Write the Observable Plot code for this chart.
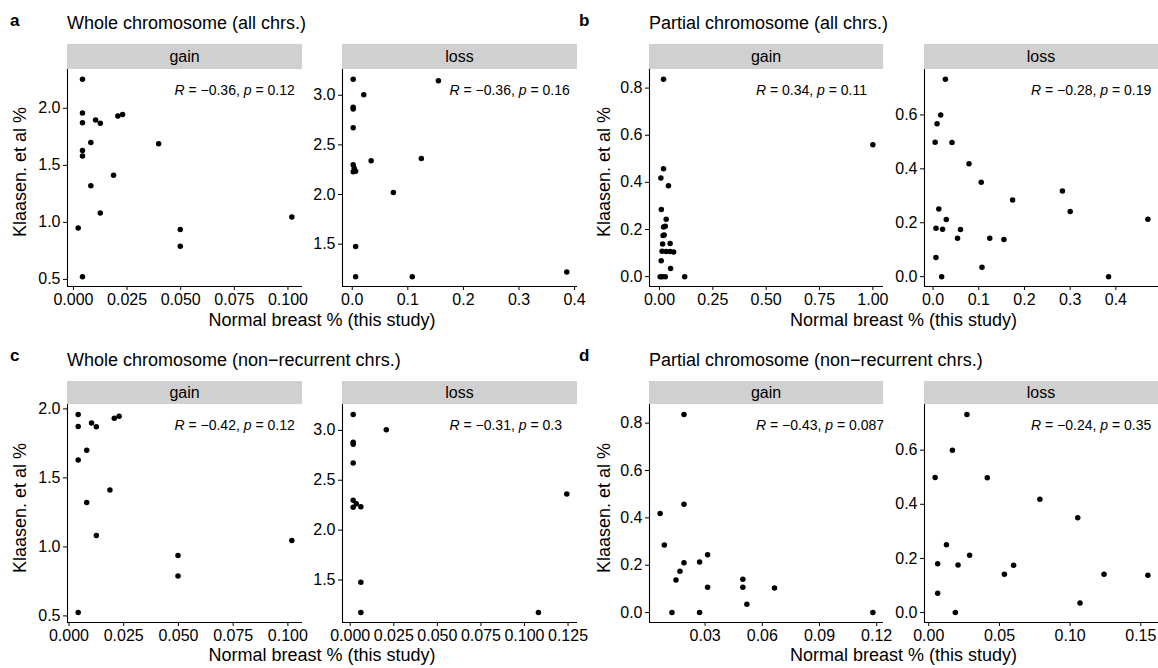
<!DOCTYPE html>
<html><head><meta charset="utf-8">
<script src="https://cdn.jsdelivr.net/npm/d3@7"></script>
<script src="https://cdn.jsdelivr.net/npm/@observablehq/plot@0.6"></script>
<style>
body{margin:0;background:#fff;}
#root{position:relative;width:1158px;height:668px;overflow:hidden;background:#fff;font-family:'Liberation Sans',Arial,Helvetica,sans-serif;color:#000;}
.lbl{position:absolute;white-space:nowrap;}
.strip{position:absolute;background:#d0d0d0;text-align:center;font-size:16px;}
</style></head><body><div id="root"></div>
<script>
// ---- text ----
const panelLetters = ["a", "b", "c", "d"];
const panelTitles = ["Whole chromosome (all chrs.)", "Partial chromosome (all chrs.)",
  "Whole chromosome (non\u2212recurrent chrs.)", "Partial chromosome (non\u2212recurrent chrs.)"];
const facetNames = ["gain", "loss"];
const xTitle = "Normal breast % (this study)";
const yTitle = "Klaasen. et al %";

// ---- correlation annotations (order: a gain, a loss, b gain, b loss, c gain, c loss, d gain, d loss) ----
const corR = [-0.36, -0.36, 0.34, -0.28, -0.42, -0.31, -0.43, -0.24];
const corP = [0.12, 0.16, 0.11, 0.19, 0.12, 0.3, 0.087, 0.35];

// ---- data ----
const aGainX = [0.0042,0.0042,0.0042,0.0042,0.0042,0.0081,0.0081,0.0022,0.0042,0.0103,0.0125,0.0125,0.0187,0.0207,0.0229,0.0397,0.0498,0.0498,0.1018];
const aGainY = [2.254,1.96,1.873,1.63,1.581,1.701,1.321,0.95,0.524,1.898,1.87,1.082,1.413,1.933,1.946,1.689,0.937,0.79,1.047];
const aLossX = [0.0017,0.0207,0.0017,0.0017,0.0017,0.0017,0.0035,0.0017,0.0061,0.034,0.074,0.1243,0.155,0.0061,0.0061,0.108,0.386];
const aLossY = [3.16,3.006,2.88,2.862,2.673,2.30,2.265,2.23,2.234,2.34,2.02,2.363,3.146,1.477,1.173,1.173,1.22];
const bGainX = [0.0189,0.0189,0.0064,0.0086,0.0189,0.0168,0.0147,0.0271,0.0313,0.0313,0.0126,0.0271,0.0498,0.0498,0.0519,0.0664,0.118,0.042,0.022,0.012,0.008,0.003,1.0];
const bGainY = [0.837,0.458,0.419,0.285,0.211,0.175,0.138,0.214,0.244,0.107,0,0,0.141,0.107,0.035,0.104,0,0.386,0.177,0.108,0.067,0,0.56];
const bLossX = [0.027,0.0167,0.0045,0.0414,0.0786,0.1054,0.0125,0.0063,0.0289,0.0207,0.0535,0.06,0.124,0.155,0.0063,0.107,0.0188,0.0087,0.174,0.283,0.30,0.47,0.384];
const bLossY = [0.732,0.6,0.499,0.498,0.419,0.35,0.251,0.18,0.212,0.176,0.142,0.175,0.142,0.138,0.071,0.035,0,0.567,0.284,0.318,0.242,0.213,0];
const cGainX = [0.0042,0.0042,0.0042,0.0042,0.0081,0.0081,0.0103,0.0125,0.0125,0.0187,0.0207,0.0229,0.0498,0.0498,0.1018];
const cGainY = [1.96,1.873,1.63,0.524,1.701,1.321,1.898,1.87,1.082,1.413,1.933,1.946,0.937,0.79,1.047];
const cLossX = [0.0017,0.0207,0.0017,0.0017,0.0017,0.0017,0.0035,0.0017,0.0061,0.1243,0.0061,0.0061,0.108];
const cLossY = [3.16,3.006,2.88,2.862,2.673,2.30,2.265,2.23,2.234,2.363,1.477,1.173,1.173];
const dGainX = [0.0189,0.0189,0.0064,0.0086,0.0189,0.0168,0.0147,0.0271,0.0313,0.0313,0.0126,0.0271,0.0498,0.0498,0.0519,0.0664,0.118];
const dGainY = [0.837,0.458,0.419,0.285,0.211,0.175,0.138,0.214,0.244,0.107,0,0,0.141,0.107,0.035,0.104,0];
const dLossX = [0.027,0.0167,0.0045,0.0414,0.0786,0.1054,0.0125,0.0063,0.0289,0.0207,0.0535,0.06,0.124,0.155,0.0063,0.107,0.0188];
const dLossY = [0.732,0.6,0.499,0.498,0.419,0.35,0.251,0.18,0.212,0.176,0.142,0.175,0.142,0.138,0.071,0.035,0];

// ---- ticks ----
const aGainXTicks = [0, 0.025, 0.05, 0.075, 0.1];
const aGainYTicks = [0.5, 1, 1.5, 2];
const aLossXTicks = [0, 0.1, 0.2, 0.3, 0.4];
const aLossYTicks = [1.5, 2, 2.5, 3];
const bGainXTicks = [0, 0.25, 0.5, 0.75, 1];
const bGainYTicks = [0, 0.2, 0.4, 0.6, 0.8];
const bLossXTicks = [0, 0.1, 0.2, 0.3, 0.4];
const bLossYTicks = [0, 0.2, 0.4, 0.6];
const cGainXTicks = [0, 0.025, 0.05, 0.075, 0.1];
const cGainYTicks = [0.5, 1, 1.5, 2];
const cLossXTicks = [0, 0.025, 0.05, 0.075, 0.1, 0.125];
const cLossYTicks = [1.5, 2, 2.5, 3];
const dGainXTicks = [0.03, 0.06, 0.09, 0.12];
const dGainYTicks = [0, 0.2, 0.4, 0.6, 0.8];
const dLossXTicks = [0, 0.05, 0.1, 0.15];
const dLossYTicks = [0, 0.2, 0.4, 0.6];
const xTickDecimals = [3, 1, 2, 1, 3, 3, 2, 2];
const yTickDecimals = [1, 1, 1, 1, 1, 1, 1, 1];

// ---- build ----
const facets = [
  [aGainX, aGainY, aGainXTicks, aGainYTicks],
  [aLossX, aLossY, aLossXTicks, aLossYTicks],
  [bGainX, bGainY, bGainXTicks, bGainYTicks],
  [bLossX, bLossY, bLossXTicks, bLossYTicks],
  [cGainX, cGainY, cGainXTicks, cGainYTicks],
  [cLossX, cLossY, cLossXTicks, cLossYTicks],
  [dGainX, dGainY, dGainXTicks, dGainYTicks],
  [dLossX, dLossY, dLossXTicks, dLossYTicks]
];

const FONT = "'Liberation Sans', Arial, Helvetica, sans-serif";
const root = document.getElementById("root");
const colLeft = [67, 342, 649, 924], colRight = [302, 577, 883, 1158];
const rowTop = [69, 404], rowBottom = [286, 622], stripTop = [44, 380.5];

function expand(v) {
  const e = d3.extent(v), pad = (e[1] - e[0]) * 0.05;
  return [e[0] - pad, e[1] + pad];
}
function addLabel(text, {left, baseline, fs, bold = false, width = null, align = "left"}) {
  const d = document.createElement("div");
  d.className = "lbl";
  d.textContent = text;
  d.style.fontSize = fs + "px";
  d.style.lineHeight = fs + "px";
  d.style.top = (baseline - 0.8465 * fs) + "px";
  d.style.left = left + "px";
  if (bold) d.style.fontWeight = "bold";
  if (width) { d.style.width = width + "px"; d.style.textAlign = align; }
  root.appendChild(d);
  return d;
}
function corLabel(r, p) {
  return `R = ${d3.format(".2f")(r)}, p = ${p}`;
}

facets.forEach((f, i) => {
  const panel = Math.floor(i / 2), type = i % 2;
  const row = Math.floor(panel / 2), col = (panel % 2) * 2 + type;
  const L = colLeft[col], R = colRight[col], T = rowTop[row], B = rowBottom[row];
  const pw = R - L, ph = B - T;
  const ml = 52, mr = 22, mt = 6, mb = 34;
  const [xs, ys, xt, yt] = f;
  const pts = xs.map((x, k) => ({x, y: ys[k]}));
  const xdom = expand(xs), ydom = expand(ys);

  // strip
  const s = document.createElement("div");
  s.className = "strip";
  s.style.left = L + "px"; s.style.width = pw + "px";
  s.style.top = stripTop[row] + "px"; s.style.height = (T - stripTop[row]) + "px";
  s.style.lineHeight = (T - stripTop[row]) + "px";
  s.textContent = facetNames[type];
  root.appendChild(s);

  const chart = Plot.plot({
    width: pw + ml + mr, height: ph + mt + mb,
    marginLeft: ml, marginRight: mr, marginTop: mt, marginBottom: mb,
    style: {fontFamily: FONT, fontSize: "16px", color: "black", background: "transparent", overflow: "visible"},
    x: {domain: xdom},
    y: {domain: ydom},
    marks: [
      Plot.ruleX([xdom[0]], {stroke: "black", strokeWidth: 1.1}),
      Plot.ruleY([ydom[0]], {stroke: "black", strokeWidth: 1.1}),
      Plot.axisX({ticks: xt, tickFormat: d3.format(`.${xTickDecimals[i]}f`), tickSize: 4, tickPadding: 3, fontSize: 16, label: null, stroke: "black"}),
      Plot.axisY({ticks: yt, tickFormat: d3.format(`.${yTickDecimals[i]}f`), tickSize: 4, tickPadding: 3, fontSize: 16, label: null, stroke: "black"}),
      Plot.dot(pts, {x: "x", y: "y", r: 2.75, fill: "black", stroke: "none"}),
      Plot.text([corLabel(corR[i], corP[i])], {text: d => d, frameAnchor: "top-left", dx: 0.455 * pw, dy: 21,
        textAnchor: "start", lineAnchor: "middle", fontSize: 14, fill: "black"})
    ]
  });
  chart.style.position = "absolute";
  chart.style.left = (L - ml) + "px";
  chart.style.top = (T - mt) + "px";
  chart.style.maxWidth = "none";
  root.appendChild(chart);

  // italic R and p
  d3.select(chart).selectAll('g[aria-label="text"] text').each(function() {
    const t = this.textContent;
    const m = t.match(/^(R)( = [^,]+, )(p)( = .+)$/);
    if (!m) return;
    const sel = d3.select(this);
    sel.text(null);
    sel.append("tspan").attr("font-style", "italic").text(m[1]);
    sel.append("tspan").text(m[2]);
    sel.append("tspan").attr("font-style", "italic").text(m[3]);
    sel.append("tspan").text(m[4]);
  });
});

// panel titles, letters, axis titles
const titleBase = [29.3, 366.7], letterBase = [26.7, 361.7];
const titleLeft = [67, 649], letterLeft = [10, 579];
const xTitleBase = [326, 661];
const yTitleX = [20, 604];
const yCenter = [172, 508];
panelTitles.forEach((t, p) => {
  const row = Math.floor(p / 2), c = p % 2;
  addLabel(panelLetters[p], {left: letterLeft[c], baseline: letterBase[row], fs: 17, bold: true});
  addLabel(t, {left: titleLeft[c], baseline: titleBase[row], fs: 18});
  const L = colLeft[c * 2], R = colRight[c * 2 + 1];
  addLabel(xTitle, {left: L, baseline: xTitleBase[row], fs: 18, width: R - L, align: "center"});
  const d = document.createElement("div");
  d.className = "lbl";
  d.textContent = yTitle;
  const fs = 18, w = 300;
  d.style.fontSize = fs + "px"; d.style.lineHeight = fs + "px";
  d.style.width = w + "px"; d.style.textAlign = "center";
  d.style.left = (yTitleX[c] - w / 2) + "px";
  d.style.top = (yCenter[row] - fs / 2) + "px";
  d.style.transform = "rotate(-90deg)";
  root.appendChild(d);
});
</script></body></html>
